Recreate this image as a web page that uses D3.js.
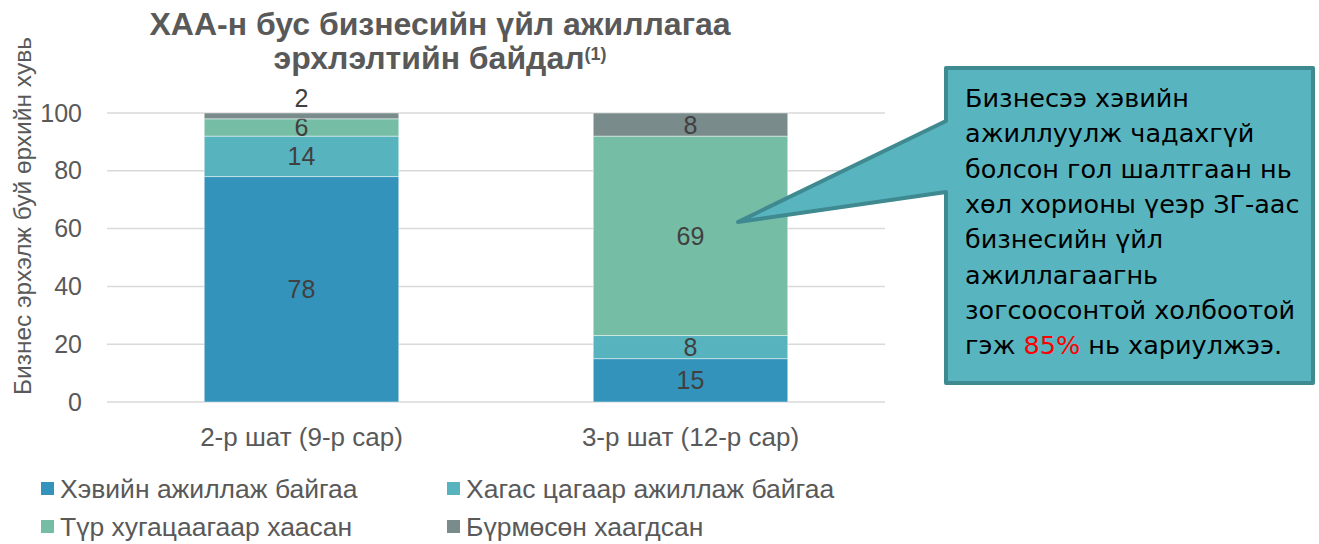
<!DOCTYPE html>
<html>
<head>
<meta charset="utf-8">
<script src="https://cdn.jsdelivr.net/npm/d3@7"></script>
<style>
  body { margin: 0; background: #fff; }
  svg { display: block; font-family: "Liberation Sans", Arial, sans-serif; }
</style>
</head>
<body>
<div id="chart"></div>
<script>
// data
var categories = ['2-р шат (9-р сар)', '3-р шат (12-р сар)'];
var seriesNames = ['Хэвийн ажиллаж байгаа', 'Хагас цагаар ажиллаж байгаа', 'Түр хугацаагаар хаасан', 'Бүрмөсөн хаагдсан'];
var normalVals   = [78, 15];
var partTimeVals = [14, 8];
var tempClosedVals = [6, 69];
var permClosedVals = [2, 8];
var yTicks = [0, 20, 40, 60, 80, 100];
var colors = ['#3393ba', '#57b4bf', '#76bda6', '#7a8b8b'];
var calloutLines = [
  ['Бизнесээ хэвийн'],
  ['ажиллуулж чадахгүй'],
  ['болсон гол шалтгаан нь'],
  ['хөл хорионы үеэр ЗГ-аас'],
  ['бизнесийн үйл'],
  ['ажиллагаагнь'],
  ['зогсоосонтой холбоотой'],
  ['гэж ', '85%', ' нь хариулжээ.']
];

var W = 1319, H = 544;
var plotLeft = 107, plotRight = 885, plotTop = 113, plotBottom = 402;
var txtColor = '#595959';

var svg = d3.select('#chart').append('svg')
  .attr('width', W).attr('height', H);

var x = d3.scaleBand().domain(categories).range([plotLeft, plotRight]).paddingInner(0.5).paddingOuter(0.25);
var y = d3.scaleLinear().domain([0, 100]).range([plotBottom, plotTop]);

// gridlines
svg.append('g').selectAll('line').data(yTicks).enter().append('line')
  .attr('x1', plotLeft).attr('x2', plotRight)
  .attr('y1', function(d){ return y(d); }).attr('y2', function(d){ return y(d); })
  .attr('stroke', '#d9d9d9').attr('stroke-width', 1.5);

// y axis labels
var yAxis = d3.axisLeft(y).tickValues(yTicks).tickSize(0).tickPadding(0);
var yg = svg.append('g').attr('transform', 'translate(82,0)').call(yAxis);
yg.select('.domain').remove();
yg.selectAll('text').attr('font-size', 25).attr('fill', txtColor)
  .attr('font-family', '"Liberation Sans", Arial, sans-serif');

// x axis labels
var xAxis = d3.axisBottom(x).tickSize(0).tickPadding(0);
var xg = svg.append('g').attr('transform', 'translate(0,' + 428 + ')').call(xAxis);
xg.select('.domain').remove();
xg.selectAll('text').attr('font-size', 26).attr('fill', txtColor)
  .attr('font-family', '"Liberation Sans", Arial, sans-serif');

// stacked bars
var rows = categories.map(function(c, i){
  return { cat: c, s0: normalVals[i], s1: partTimeVals[i], s2: tempClosedVals[i], s3: permClosedVals[i] };
});
var stack = d3.stack().keys(['s0', 's1', 's2', 's3']);
var layers = stack(rows);

var lg = svg.append('g').selectAll('g').data(layers).enter().append('g')
  .attr('fill', function(d, i){ return colors[i]; });

lg.selectAll('rect').data(function(d){ return d; }).enter().append('rect')
  .attr('x', function(d){ return x(d.data.cat); })
  .attr('width', x.bandwidth())
  .attr('y', function(d){ return y(d[1]); })
  .attr('height', function(d){ return y(d[0]) - y(d[1]); })
  .attr('stroke', 'rgba(255,255,255,0.45)').attr('stroke-width', 1);

// value labels
lg.selectAll('text').data(function(d){ return d; }).enter().append('text')
  .attr('x', function(d){ return x(d.data.cat) + x.bandwidth() / 2; })
  .attr('y', function(d){
    var v = d[1] - d[0];
    var mid = (y(d[0]) + y(d[1])) / 2;
    if (v < 4) return y(d[1]) - 6;
    return mid + 9;
  })
  .attr('text-anchor', 'middle')
  .attr('font-size', 25).attr('fill', '#404040')
  .text(function(d){ return d[1] - d[0]; });

// title
var title = svg.append('text').attr('text-anchor', 'middle')
  .attr('font-size', 32).attr('font-weight', 'bold').attr('fill', txtColor);
title.append('tspan').attr('x', 440).attr('y', 35).text('ХАА-н бус бизнесийн үйл ажиллагаа');
var t2 = title.append('tspan').attr('x', 440).attr('y', 69);
t2.append('tspan').text('эрхлэлтийн байдал');
t2.append('tspan').attr('font-size', 18).attr('dy', -9).text('(1)');

// y axis title
svg.append('text')
  .attr('transform', 'translate(31,' + 216 + ') rotate(-90)')
  .attr('text-anchor', 'middle')
  .attr('font-size', 24.5).attr('fill', txtColor)
  .text('Бизнес эрхэлж буй өрхийн хувь');

// legend
var legendPos = [[41, 482], [447, 482], [41, 520], [447, 520]];
var leg = svg.append('g').selectAll('g').data(seriesNames).enter().append('g')
  .attr('transform', function(d, i){ return 'translate(' + legendPos[i][0] + ',' + legendPos[i][1] + ')'; });
leg.append('rect').attr('width', 13).attr('height', 13)
  .attr('fill', function(d, i){ return colors[i]; });
leg.append('text').attr('x', 19).attr('y', 15.5)
  .attr('font-size', 26.5).attr('fill', txtColor)
  .text(function(d){ return d; });

// callout
var bx0 = 946, by0 = 68, bx1 = 1313, by1 = 383;
var tip = [738, 222];
var path = d3.path();
path.moveTo(bx0, by0);
path.lineTo(bx1, by0);
path.lineTo(bx1, by1);
path.lineTo(bx0, by1);
path.lineTo(bx0, 192);
path.lineTo(tip[0], tip[1]);
path.lineTo(bx0, 121);
path.closePath();
svg.append('path').attr('d', path.toString())
  .attr('fill', '#58b5c0').attr('stroke', '#3e8a90').attr('stroke-width', 4)
  .attr('stroke-linejoin', 'round');

var ct = svg.append('text')
  .attr('font-family', '"DejaVu Sans", Verdana, sans-serif')
  .attr('font-size', 25.5).attr('fill', '#000');
calloutLines.forEach(function(parts, i){
  var line = ct.append('tspan').attr('x', 965).attr('y', 107 + i * 35.3);
  parts.forEach(function(p){
    line.append('tspan').attr('fill', p === '85%' ? '#ff0000' : null).text(p);
  });
});
</script>
</body>
</html>
